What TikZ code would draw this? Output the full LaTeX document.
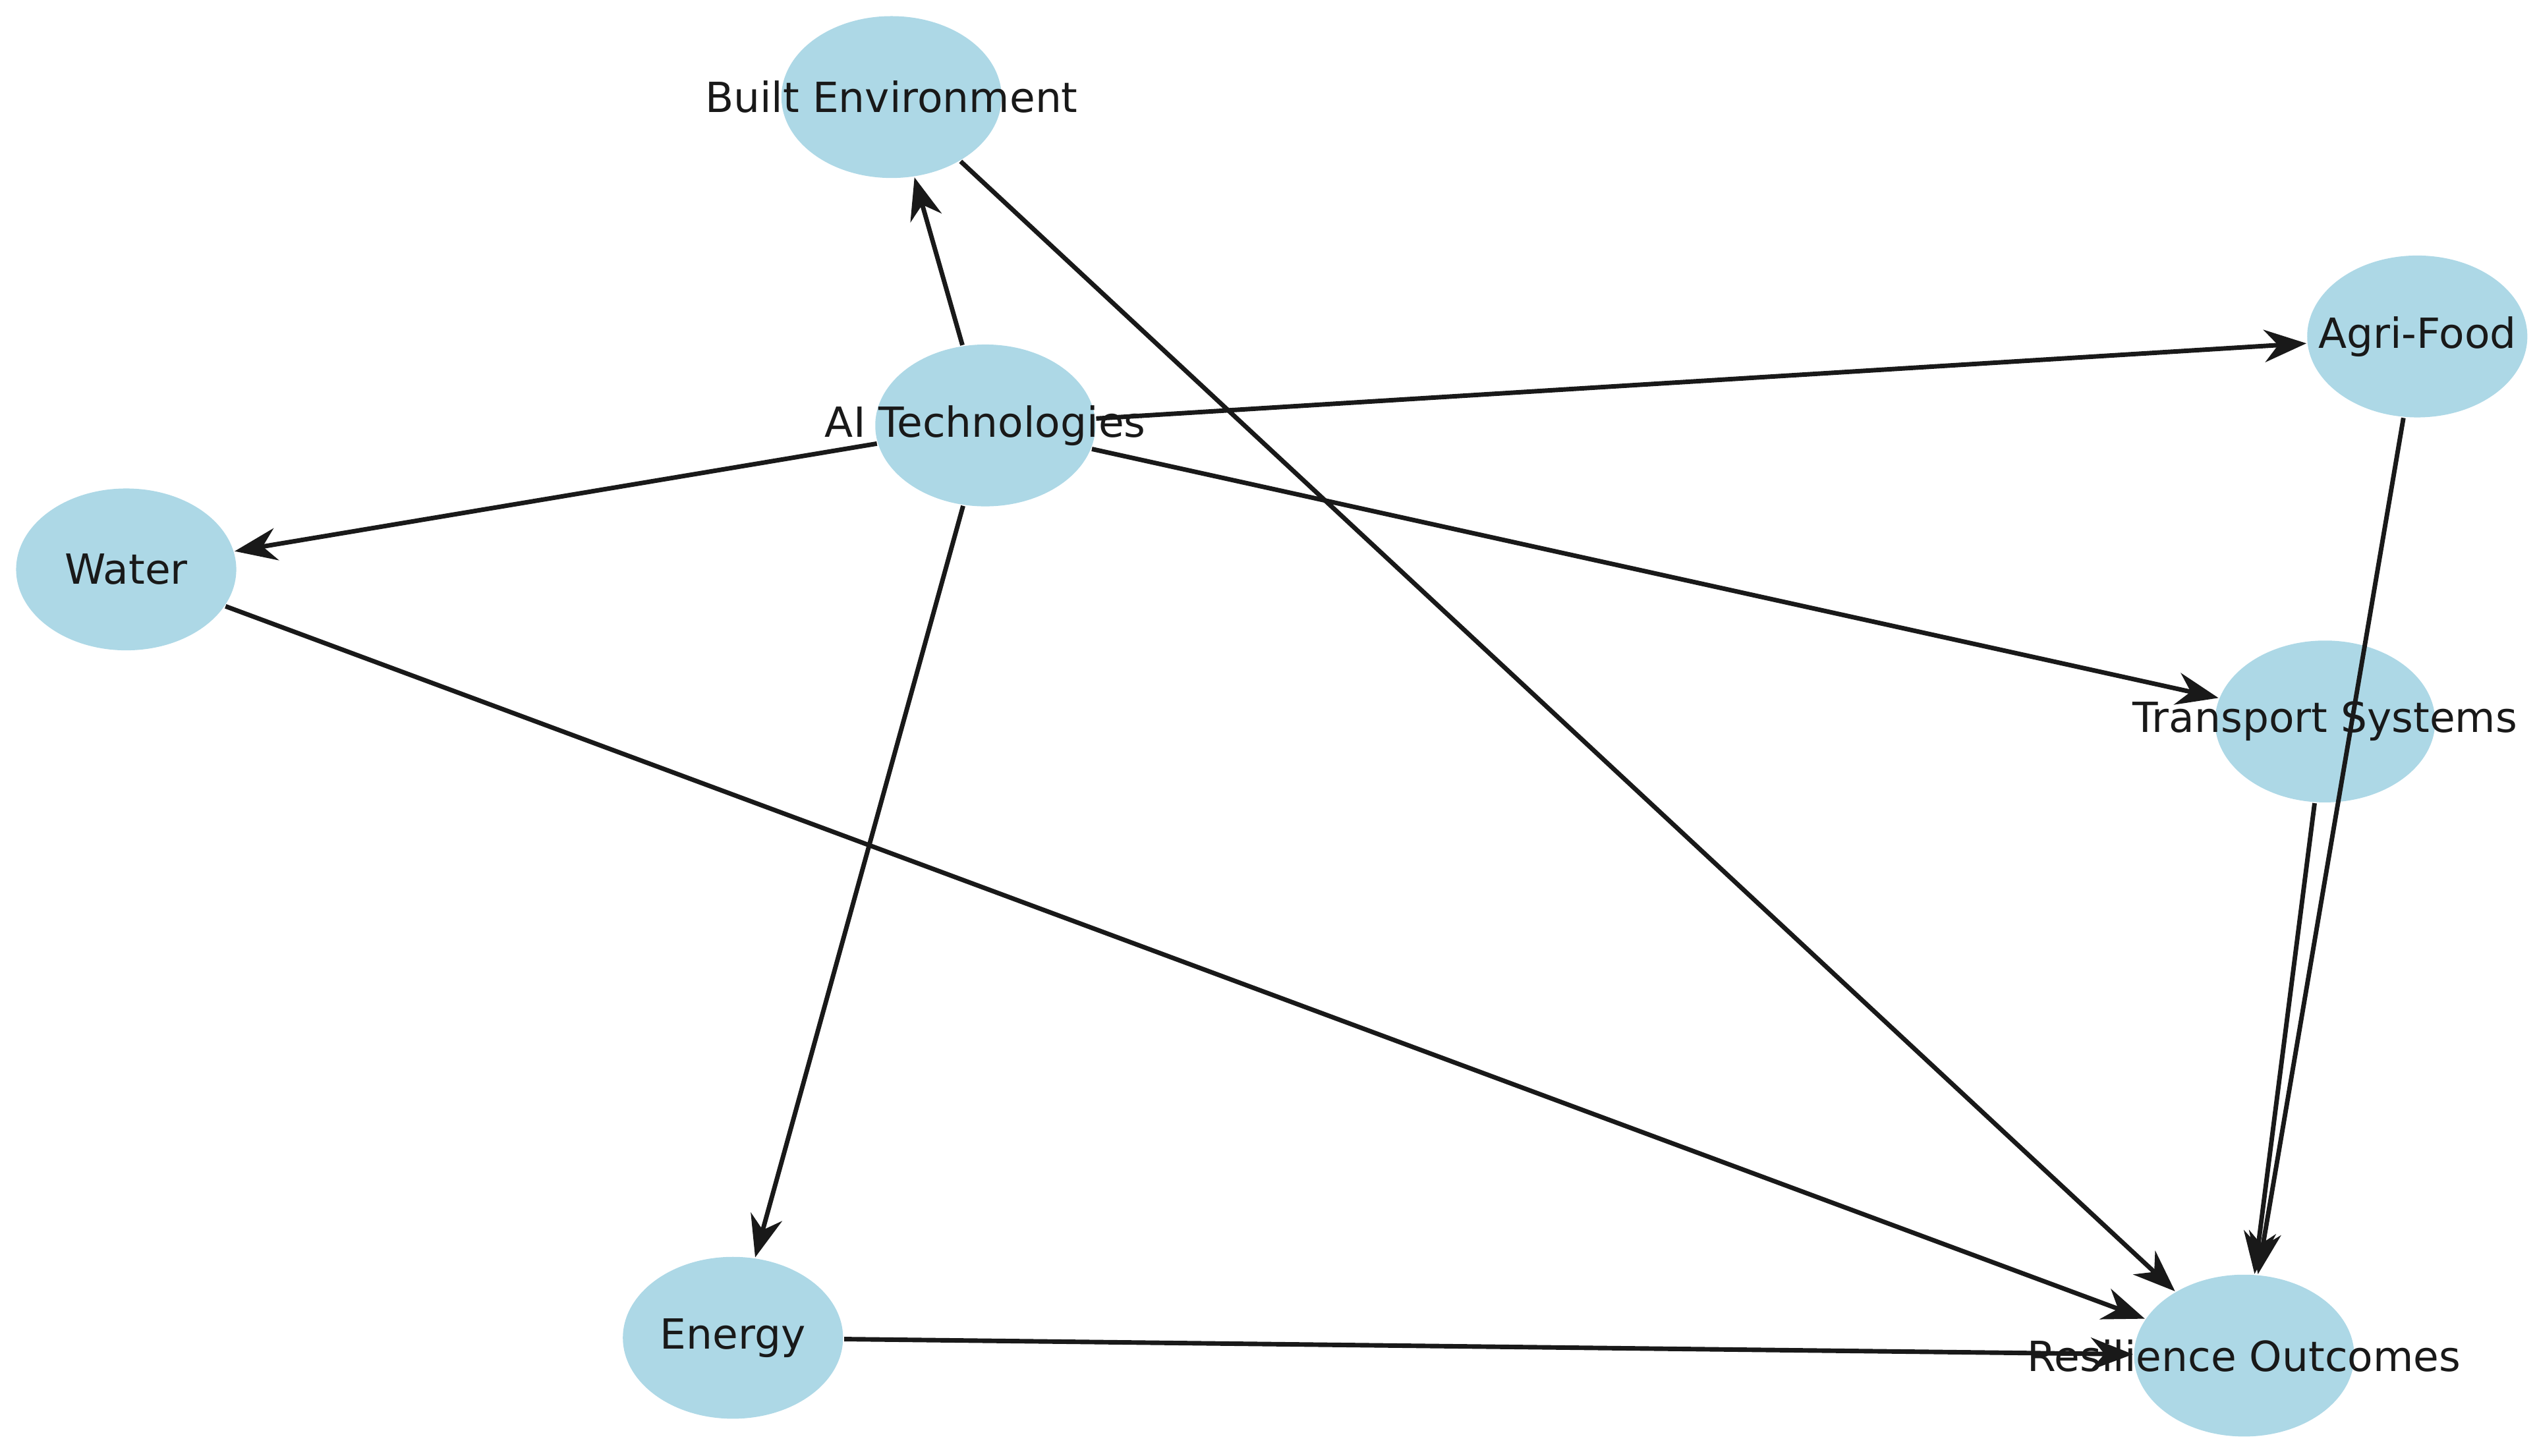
\documentclass[tikz,border=0pt]{standalone}
\usepackage{fontspec}
\setmainfont{DejaVu Sans}
\usetikzlibrary{shapes.geometric,arrows.meta}
\definecolor{lb}{HTML}{ADD8E6}
\begin{document}
\begin{tikzpicture}[x=0.01cm,y=-0.01cm,
  nd/.style={ellipse,fill=lb,minimum width=1.36cm,minimum height=1.0cm,inner sep=0pt},
  lbl/.style={font=\fontsize{7.3}{8}\selectfont,text=black!90},
  ed/.style={-{Stealth[length=2.6mm,width=2mm]},line width=0.8pt,black!90}]
\useasboundingbox (0,0) rectangle (1568,900);
\node[nd] (be) at (551,60) {};
\node[nd] (ai) at (609,263) {};
\node[nd] (af) at (1494,208) {};
\node[nd] (wa) at (78,352) {};
\node[nd] (ts) at (1437,446) {};
\node[nd] (en) at (453,827) {};
\node[nd] (ro) at (1387,838) {};
\draw[ed] (ai) -- (be);
\draw[ed] (ai) -- (af);
\draw[ed] (ai) -- (wa);
\draw[ed] (ai) -- (ts);
\draw[ed] (ai) -- (en);
\draw[ed] (be) -- (ro);
\draw[ed] (af) -- (ro);
\draw[ed] (wa) -- (ro);
\draw[ed] (ts) -- (ro);
\draw[ed] (en) -- (ro);
\node[lbl] (beL) at (be) {Built Environment};
\node[lbl] (aiL) at (ai) {AI Technologies};
\node[lbl] (afL) at (af) {Agri-Food};
\node[lbl] (waL) at (wa) {Water};
\node[lbl] (tsL) at (ts) {Transport Systems};
\node[lbl] (enL) at (en) {Energy};
\node[lbl] (roL) at (ro) {Resilience Outcomes};
\end{tikzpicture}
\end{document}
